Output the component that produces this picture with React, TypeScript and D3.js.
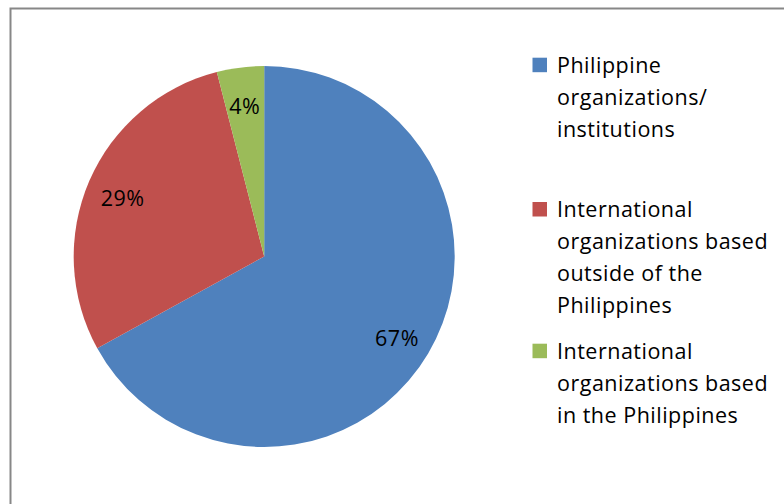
import React from "react";
import * as d3 from "d3";

const categories = [
  ["Philippine", "organizations/", "institutions"],
  ["International", "organizations based", "outside of the", "Philippines"],
  ["International", "organizations based", "in the Philippines"],
];
const values = [67, 29, 4];
const colors = ["#4F81BD", "#C0504D", "#9BBB59"];
const legendTops = [72.7, 217, 358.7];

const W = 784;
const H = 504;
const cx = 264.2;
const cy = 256.5;
const R = 190.5;
const FONT = "'Open Sans', 'Noto Sans', sans-serif";

export default function App() {
  const pie = d3.pie<number>().sort(null).value((d) => d);
  const arcs = pie(values);
  const arc = d3.arc<d3.PieArcDatum<number>>().innerRadius(0).outerRadius(R);
  const labelArc = d3
    .arc<d3.PieArcDatum<number>>()
    .innerRadius(R * 0.81)
    .outerRadius(R * 0.81);
  const total = d3.sum(values);

  return (
    <svg
      width={W}
      height={H}
      style={{ position: "fixed", left: 0, top: 0, background: "#fff" }}
    >
      <rect x={0} y={0} width={W} height={H} fill="#fff" />
      <rect
        x={10.5}
        y={8.5}
        width={W + 20}
        height={H + 20}
        fill="none"
        stroke="#878787"
        strokeWidth={2}
      />
      <g transform={`translate(${cx},${cy})`}>
        {arcs.map((a, i) => (
          <path key={i} d={arc(a) || ""} fill={colors[i]} />
        ))}
        {arcs.map((a, i) => {
          const [lx, ly] = labelArc.centroid(a);
          return (
            <text
              key={"l" + i}
              x={lx}
              y={ly + 2.5}
              textAnchor="middle"
              dominantBaseline="central"
              fontFamily={FONT}
              fontSize={21.5}
              letterSpacing={0.5}
              fill="#000"
            >
              {`${Math.round((values[i] / total) * 100)}%`}
            </text>
          );
        })}
      </g>
      {categories.map((lines, i) => (
        <g key={"lg" + i}>
          <rect
            x={532.5}
            y={legendTops[i] - 15}
            width={14.5}
            height={14.5}
            fill={colors[i]}
          />
          {lines.map((t, j) => (
            <text
              key={j}
              x={557}
              y={legendTops[i] + j * 32}
              fontFamily={FONT}
              fontSize={21.5}
              letterSpacing={0.5}
              fill="#000"
            >
              {t}
            </text>
          ))}
        </g>
      ))}
    </svg>
  );
}
